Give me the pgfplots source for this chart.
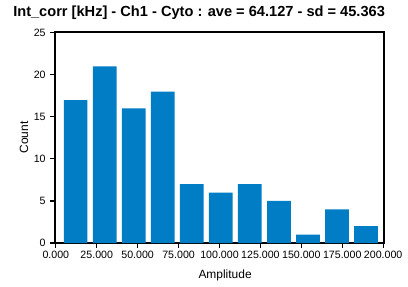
\documentclass[border=0pt]{standalone}
\usepackage{pgfplots}
\pgfplotsset{compat=1.18}
\usepackage{fontspec}
\setmainfont{Liberation Sans}
\definecolor{barblue}{RGB}{0,125,197}
\begin{document}
\begin{tikzpicture}[x=1bp,y=1bp]
\useasboundingbox (-41.25bp,-33bp) rectangle (264.75bp,182.25bp);
\begin{axis}[
  scale only axis,
  width=246.75bp, height=158.25bp,
  xmin=-0.5, xmax=200.5, ymin=0, ymax=25.1,
  axis line style={line width=0.8bp},
  every tick/.style={black, line width=0.8bp},
  tick align=outside, major tick length=3.5bp,
  xtick={0,25,50,75,100,125,150,175,200},
  xticklabels={0.000,25.000,50.000,75.000,100.000,125.000,150.000,175.000,200.000},
  ytick={0,5,10,15,20,25},
  yticklabels={0,5,10,15,20,25},
  xtick pos=bottom, ytick pos=left,
  tick label style={font=\fontsize{8}{9.6}\selectfont},
  xticklabel style={yshift=1bp},
  xlabel={Amplitude}, ylabel={Count},
  label style={font=\fontsize{9}{10.8}\selectfont},
  xlabel style={at={(axis description cs:0.517,-0.166)}, anchor=base},
  ylabel style={at={(axis description cs:-0.094,0.5)}, anchor=center},
  clip=false,
]
\addplot[ybar, bar width=14.5, fill=barblue, draw=none] coordinates {
(12.1,17) (29.84,21) (47.58,16) (65.32,18) (83.06,7) (100.8,6)
(118.54,7) (136.28,5) (154.02,1) (171.76,4) (189.5,2)};
\node[anchor=base, inner sep=0pt, font=\fontsize{11}{13}\selectfont\bfseries]
  at (axis description cs:0.438,1.074)
  {Int\_corr [kHz] - Ch1 - Cyto : ave = 64.127 - sd = 45.363};
\end{axis}
\end{tikzpicture}
\end{document}
